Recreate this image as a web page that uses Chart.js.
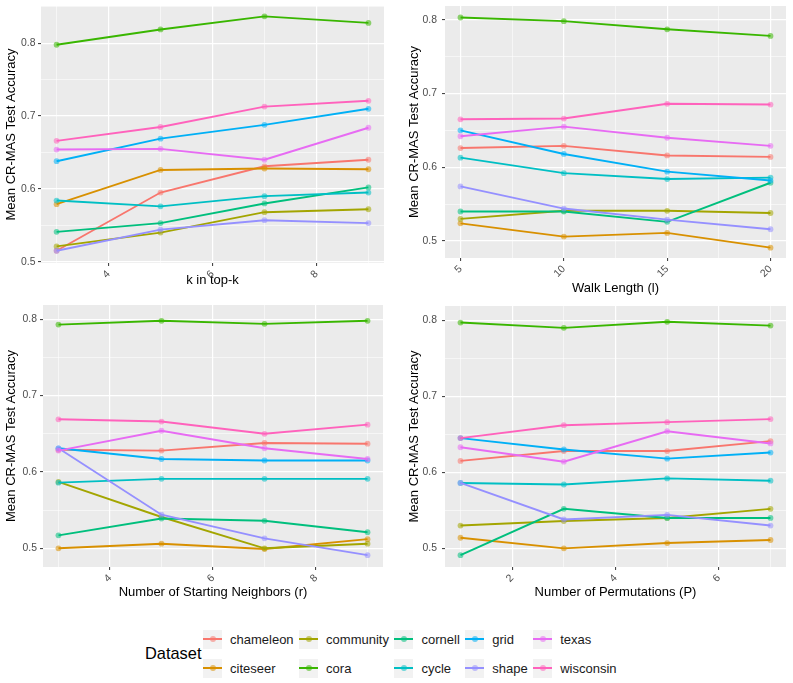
<!DOCTYPE html>
<html>
<head>
<meta charset="utf-8">
<script src="https://cdn.jsdelivr.net/npm/chart.js@4.4.1/dist/chart.umd.min.js"></script>
<style>
  body { margin: 0; background: #fff; font-family: "Liberation Sans", Arial, sans-serif; }
  #wrap { position: relative; width: 793px; height: 683px; overflow: hidden; }
  .panel { position: absolute; }
  #legTitle { position: absolute; left: 145px; top: 643px; font-size: 16.4px; line-height: 20px; color: #000; }
  #legend { position: absolute; left: 203px; top: 624.5px; display: grid; grid-template-rows: 29px 29px;
            grid-auto-flow: column; column-gap: 5.5px; }
  .item { display: flex; align-items: center; font-size: 13px; color: #1a1a1a; }
  .key { position: relative; width: 19px; height: 19px; background: #F2F2F2; margin-right: 8px; }
  .key .ln { position: absolute; left: 0; right: 0; top: 8.6px; height: 1.8px; }
  .key .dt { position: absolute; left: 6.5px; top: 6.5px; width: 6px; height: 6px; border-radius: 50%; }
</style>
</head>
<body>
<div id="wrap">
  <canvas class="panel" id="c1" width="395" height="300" style="left:0;top:0"></canvas>
  <canvas class="panel" id="c2" width="398" height="300" style="left:395px;top:0"></canvas>
  <canvas class="panel" id="c3" width="395" height="310" style="left:0;top:300px"></canvas>
  <canvas class="panel" id="c4" width="398" height="310" style="left:395px;top:300px"></canvas>
  <div id="legTitle">Dataset</div>
  <div id="legend"></div>
</div>
<script>
// series order (ggplot hue palette)
const datasetNames = ['chameleon', 'citeseer', 'community', 'cora', 'cornell', 'cycle', 'grid', 'shape', 'texas', 'wisconsin'];
const datasetColors = ['#F8766D', '#D89000', '#A3A500', '#39B600', '#00BF7D', '#00BFC4', '#00B0F6', '#9590FF', '#E76BF3', '#FF62BC'];

// k in top-k  (rows follow datasetNames)
const topKX = [3, 5, 7, 9];
const topKAcc = [
  [0.515, 0.595, 0.631, 0.640],
  [0.579, 0.626, 0.628, 0.627],
  [0.521, 0.540, 0.568, 0.572],
  [0.798, 0.819, 0.837, 0.828],
  [0.541, 0.553, 0.580, 0.602],
  [0.584, 0.576, 0.590, 0.595],
  [0.638, 0.669, 0.688, 0.710],
  [0.515, 0.544, 0.557, 0.553],
  [0.654, 0.655, 0.640, 0.684],
  [0.666, 0.685, 0.713, 0.721]
];

// walk length (l)
const walkX = [5, 10, 15, 20];
const walkAcc = [
  [0.626, 0.629, 0.616, 0.614],
  [0.524, 0.506, 0.511, 0.491],
  [0.530, 0.541, 0.541, 0.538],
  [0.803, 0.798, 0.787, 0.778],
  [0.540, 0.540, 0.526, 0.579],
  [0.613, 0.592, 0.584, 0.586],
  [0.650, 0.618, 0.594, 0.582],
  [0.574, 0.544, 0.529, 0.516],
  [0.642, 0.655, 0.640, 0.629],
  [0.665, 0.666, 0.686, 0.685]
];

// number of starting neighbors (r)
const neighX = [3, 5, 7, 9];
const neighAcc = [
  [0.629, 0.628, 0.638, 0.637],
  [0.500, 0.506, 0.499, 0.512],
  [0.587, 0.541, 0.500, 0.506],
  [0.793, 0.798, 0.794, 0.798],
  [0.517, 0.539, 0.536, 0.521],
  [0.586, 0.591, 0.591, 0.591],
  [0.631, 0.617, 0.615, 0.615],
  [0.631, 0.544, 0.513, 0.491],
  [0.628, 0.654, 0.631, 0.617],
  [0.669, 0.666, 0.650, 0.662]
];

// number of permutations (P)
const permX = [1, 3, 5, 7];
const permAcc = [
  [0.615, 0.628, 0.628, 0.641],
  [0.514, 0.500, 0.507, 0.511],
  [0.530, 0.536, 0.540, 0.552],
  [0.797, 0.790, 0.798, 0.793],
  [0.491, 0.552, 0.540, 0.540],
  [0.586, 0.584, 0.592, 0.589],
  [0.645, 0.630, 0.618, 0.626],
  [0.586, 0.538, 0.544, 0.530],
  [0.633, 0.614, 0.654, 0.638],
  [0.645, 0.662, 0.666, 0.670]
];

// tick labels and minor breaks
const yMajor = [0.5, 0.6, 0.7, 0.8];
const yMinorTop = [0.55, 0.65, 0.75, 0.85];
const yMinor = [0.55, 0.65, 0.75];
const topKTicks = [4, 6, 8], topKMinor = [3, 5, 7, 9];
const walkTicks = [5, 10, 15, 20], walkMinor = [7.5, 12.5, 17.5];
const neighTicks = [4, 6, 8], neighMinor = [3, 5, 7, 9];
const permTicks = [2, 4, 6], permMinor = [1, 3, 5, 7];

Chart.defaults.font.family = '"Liberation Sans", Arial, sans-serif';

const panelBg = {
  id: 'panelBg',
  beforeDraw(chart) {
    const { ctx, chartArea: a } = chart;
    ctx.save();
    ctx.fillStyle = '#EBEBEB';
    ctx.fillRect(a.left, a.top, a.right - a.left, a.bottom - a.top);
    ctx.restore();
  }
};

const has = (arr, v) => arr.some(m => Math.abs(m - v) < 1e-9);

function hexA(hex, a) {
  const n = parseInt(hex.slice(1), 16);
  return `rgba(${n >> 16},${(n >> 8) & 255},${n & 255},${a})`;
}

function makePanel(id, xs, acc, o) {
  const datasets = acc.map((vals, i) => ({
    label: datasetNames[i],
    data: vals.map((v, j) => ({ x: xs[j], y: v })),
    borderColor: datasetColors[i],
    backgroundColor: hexA(datasetColors[i], 0.55),
    borderWidth: 1.9,
    pointRadius: 2.9,
    pointBorderWidth: 0,
    pointBackgroundColor: hexA(datasetColors[i], 0.55),
    tension: 0,
    order: acc.length - i
  }));

  const xAll = o.xTicks.concat(o.xMinor).sort((a, b) => a - b);
  const yAll = yMajor.concat(o.yMinor).sort((a, b) => a - b);

  new Chart(document.getElementById(id), {
    type: 'line',
    data: { datasets },
    plugins: [panelBg],
    options: {
      responsive: false,
      animation: false,
      layout: { padding: { top: o.top, right: o.padR, left: 0, bottom: 0 } },
      plugins: { legend: { display: false }, tooltip: { enabled: false } },
      scales: {
        x: {
          type: 'linear',
          min: o.xMin, max: o.xMax,
          afterBuildTicks: s => { s.ticks = xAll.map(v => ({ value: v })); },
          afterFit: s => { s.height = o.xH; },
          border: { display: false },
          grid: {
            color: '#FFFFFF',
            lineWidth: c => has(o.xTicks, c.tick.value) ? 1.2 : 0.55,
            tickColor: c => has(o.xTicks, c.tick.value) ? '#333333' : 'rgba(0,0,0,0)',
            tickLength: 3,
            tickWidth: 1
          },
          ticks: {
            autoSkip: false, minRotation: 45, maxRotation: 45, padding: 2,
            color: '#4D4D4D', font: { size: 10.4 },
            callback: v => has(o.xTicks, v) ? String(v) : ''
          },
          title: {
            display: true, text: o.xTitle, color: '#000000',
            font: { size: 13 }, padding: { top: 0, bottom: o.xTitlePad }
          }
        },
        y: {
          type: 'linear',
          min: o.yMin, max: o.yMax,
          afterBuildTicks: s => { s.ticks = yAll.map(v => ({ value: v })); },
          afterFit: s => { s.width = o.left; },
          border: { display: false },
          grid: {
            color: '#FFFFFF',
            lineWidth: c => has(yMajor, c.tick.value) ? 1.2 : 0.55,
            tickColor: c => has(yMajor, c.tick.value) ? '#333333' : 'rgba(0,0,0,0)',
            tickLength: 3,
            tickWidth: 1
          },
          ticks: {
            padding: o.yPad, color: '#4D4D4D', font: { size: 10.4, lineHeight: 0.2 },
            callback: v => has(yMajor, v) ? v.toFixed(1) : ''
          },
          title: {
            display: true, text: 'Mean CR-MAS Test Accuracy', color: '#000000',
            font: { size: 13 }, padding: { top: o.yTitlePad, bottom: 0 }
          }
        }
      }
    }
  });
}

makePanel('c1', topKX, topKAcc, {
  xTicks: topKTicks, xMinor: topKMinor, xMin: 2.7, xMax: 9.3, xTitle: 'k in top-k',
  yMinor: yMinorTop, yMin: 0.4982, yMax: 0.8512,
  top: 6, padR: 11, left: 41, xH: 37, xTitlePad: 12, yTitlePad: 4, yPad: 2.5
});
makePanel('c2', walkX, walkAcc, {
  xTicks: walkTicks, xMinor: walkMinor, xMin: 4.25, xMax: 20.75, xTitle: 'Walk Length (l)',
  yMinor: yMinor, yMin: 0.477, yMax: 0.8185,
  top: 5, padR: 7, left: 50, xH: 42, xTitlePad: 4, yTitlePad: 12, yPad: 5
});
makePanel('c3', neighX, neighAcc, {
  xTicks: neighTicks, xMinor: neighMinor, xMin: 2.7, xMax: 9.3, xTitle: 'Number of Starting Neighbors (r)',
  yMinor: yMinor, yMin: 0.4755, yMax: 0.8187,
  top: 5, padR: 12, left: 43, xH: 43, xTitlePad: 9.5, yTitlePad: 4, yPad: 3
});
makePanel('c4', permX, permAcc, {
  xTicks: permTicks, xMinor: permMinor, xMin: 0.7, xMax: 7.3, xTitle: 'Number of Permutations (P)',
  yMinor: yMinor, yMin: 0.4755, yMax: 0.8187,
  top: 5, padR: 7, left: 50, xH: 43, xTitlePad: 9.5, yTitlePad: 12, yPad: 5
});

// legend (two rows, filled column by column)
const legend = document.getElementById('legend');
datasetNames.forEach((name, i) => {
  const item = document.createElement('div');
  item.className = 'item';
  item.innerHTML = `<div class="key"><div class="ln" style="background:${datasetColors[i]}"></div>` +
    `<div class="dt" style="background:${hexA(datasetColors[i], 0.55)}"></div></div><span>${name}</span>`;
  legend.appendChild(item);
});
</script>
</body>
</html>
